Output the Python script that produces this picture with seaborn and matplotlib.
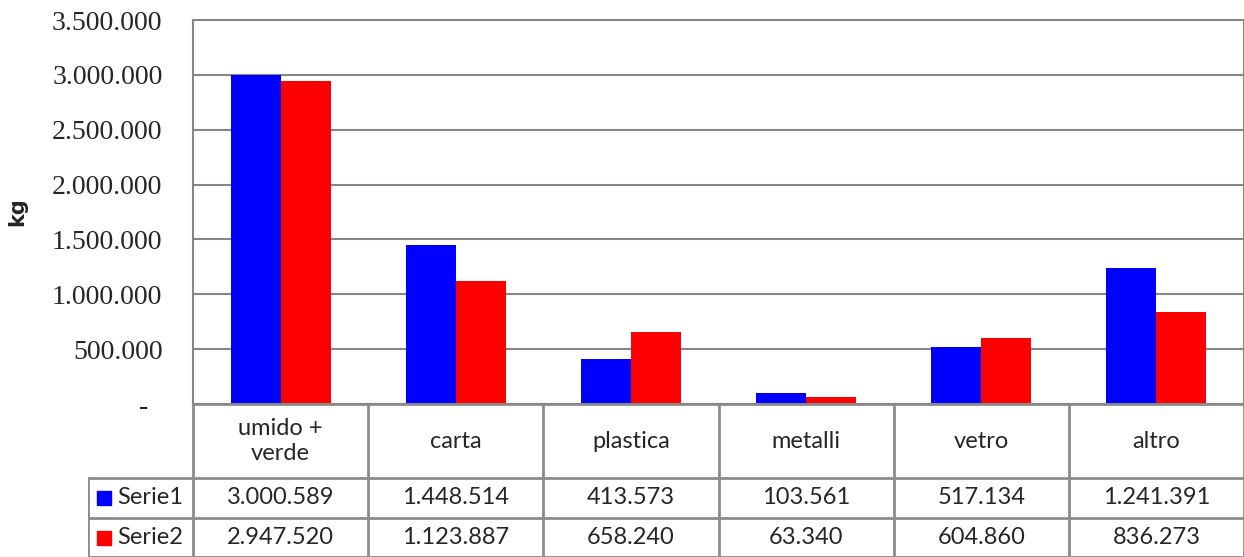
import matplotlib
matplotlib.use("Agg")
import matplotlib.pyplot as plt
import seaborn as sns
import pandas as pd
from matplotlib.ticker import FuncFormatter

# data
categorie = ["umido +\nverde", "carta", "plastica", "metalli", "vetro", "altro"]
serie1 = [3000589, 1448514, 413573, 103561, 517134, 1241391]
serie2 = [2947520, 1123887, 658240, 63340, 604860, 836273]
serie_nomi = ["Serie1", "Serie2"]
colori = ["#0000FF", "#FF0000"]

df = pd.DataFrame({
    "categoria": categorie * 2,
    "serie": [serie_nomi[0]] * 6 + [serie_nomi[1]] * 6,
    "kg": serie1 + serie2,
})

def fmt_it(v):
    return f"{int(round(v)):,}".replace(",", ".")

sns.set_style("white")
W, H = 1244, 557
fig = plt.figure(figsize=(W / 100, H / 100), dpi=100)

# plot area in pixel coords
x0, x1, y_top, y_bot = 193, 1244, 20, 404
ax = fig.add_axes([x0 / W, 1 - y_bot / H, (x1 - x0) / W, (y_bot - y_top) / H])
sns.barplot(data=df, x="categoria", y="kg", hue="serie", palette=colori,
            width=100 / 175, saturation=1, ax=ax, legend=False, errorbar=None,
            linewidth=0)
ax.set_ylim(0, 3500000)
ax.set_xlim(-0.5, 5.5)
ax.set_yticks(range(0, 3500001, 500000))
# zero shown as a dash, a bit left as in accounting format
ax.yaxis.set_major_formatter(FuncFormatter(lambda v, p: "-  " if v == 0 else fmt_it(v)))
ax.set_xticks([])
ax.set_xlabel("")
ax.set_ylabel("kg", fontsize=15, fontweight="bold", family="DejaVu Sans")
ax.yaxis.set_label_coords((27 - x0) / (x1 - x0), 0.5)
ax.tick_params(axis="y", length=0, pad=22, labelsize=20)
for lbl in ax.get_yticklabels():
    lbl.set_family("Liberation Serif")
ax.grid(axis="y", color="#868686", linewidth=1.5)
ax.set_axisbelow(True)
for s in ax.spines.values():
    s.set_color("#868686")
    s.set_linewidth(1.5)

# data table below the plot, drawn in pixel coords
tx0 = 88
tab = fig.add_axes([tx0 / W, 0, (W - tx0) / W, (H - y_bot) / H])
tab.set_xlim(tx0, W)
tab.set_ylim(H, y_bot)
tab.axis("off")
grigio = "#8c8c8c"
col_w = (x1 - x0) / 6
r1, r2 = 478, 518
tab_font = ["Lato", "DejaVu Sans"]
fs = 17

# horizontal lines
tab.plot([x0, x1], [y_bot, y_bot], color=grigio, lw=2)
tab.plot([tx0, x1], [r1, r1], color=grigio, lw=2)
tab.plot([tx0, x1], [r2, r2], color=grigio, lw=2)
tab.plot([tx0, x1], [H - 0.5, H - 0.5], color=grigio, lw=2)
# vertical lines
tab.plot([tx0, tx0], [r1, H], color=grigio, lw=2)
for i in range(7):
    xx = x0 + i * col_w
    tab.plot([xx, xx], [y_bot, H], color=grigio, lw=2)

for i, cat in enumerate(categorie):
    cx = x0 + (i + 0.5) * col_w
    tab.text(cx, (y_bot + r1) / 2, cat, ha="center", va="center",
             fontsize=fs, family=tab_font, linespacing=1.2)
    tab.text(cx, (r1 + r2) / 2, fmt_it(serie1[i]), ha="center", va="center",
             fontsize=fs, family=tab_font)
    tab.text(cx, (r2 + H) / 2, fmt_it(serie2[i]), ha="center", va="center",
             fontsize=fs, family=tab_font)

for j, (nome, col) in enumerate(zip(serie_nomi, colori)):
    yc = (r1 + r2) / 2 if j == 0 else (r2 + H) / 2
    tab.add_patch(plt.Rectangle((97, yc - 7), 14, 14, color=col))
    tab.text(117, yc, nome, ha="left", va="center", fontsize=fs, family=tab_font)

fig.savefig("out.png", dpi=100)
